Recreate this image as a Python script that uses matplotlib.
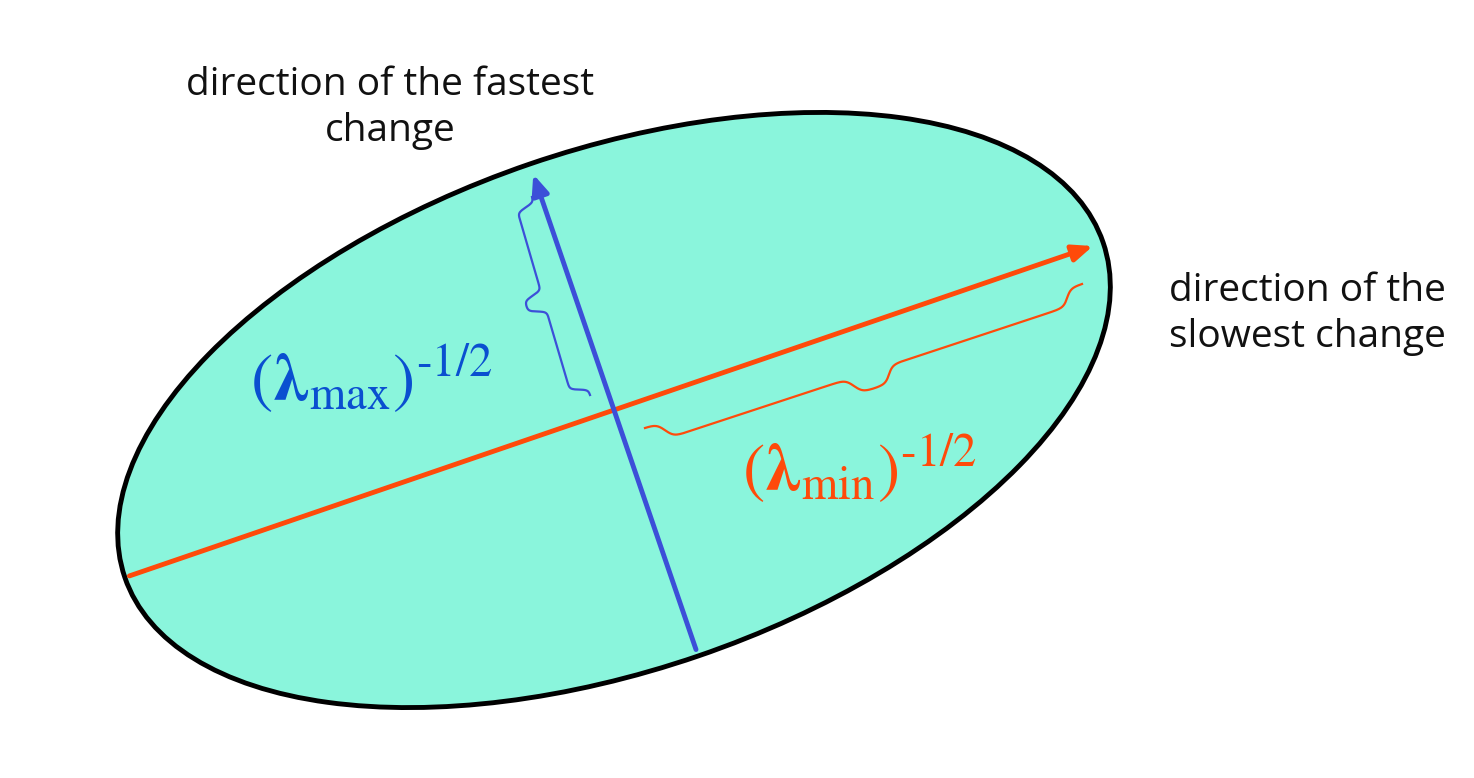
import numpy as np
import matplotlib
matplotlib.use("Agg")
import matplotlib.pyplot as plt
from matplotlib.patches import Ellipse, FancyArrowPatch

plt.rcParams['mathtext.fontset'] = 'stix'

# diagram parameters (pixel space)
center = (614, 410)
semi_major = 517
semi_minor = 260
angle_deg = 18.9
fill_color = '#8af5dc'
major_color = '#ff4a0a'
minor_color = '#3c4fd8'
label_fast = "direction of the fastest\nchange"
label_slow = "direction of the\nslowest change"

fig = plt.figure(figsize=(14.74, 7.78), dpi=100)
ax = fig.add_axes([0, 0, 1, 1])
ax.set_xlim(0, 1474)
ax.set_ylim(778, 0)
ax.set_aspect('equal')
ax.axis('off')

ax.add_patch(Ellipse(center, 2*semi_major, 2*semi_minor, angle=-angle_deg,
                     facecolor=fill_color, edgecolor='black', lw=3.5))

t = np.deg2rad(angle_deg)
u = np.array([np.cos(t), -np.sin(t)])     # major direction (up-right)
v = np.array([-np.sin(t), -np.cos(t)])    # minor direction (up-left)
c = np.array(center)

a1, a2 = c - u*(semi_major-2), c + u*(semi_major-8)
ax.add_patch(FancyArrowPatch(a1, a2, arrowstyle='-|>,head_length=12,head_width=5',
                             color=major_color, lw=3.5, mutation_scale=1))
b1, b2 = c - v*(semi_minor-4), c + v*(semi_minor-8)
ax.add_patch(FancyArrowPatch(b1, b2, arrowstyle='-|>,head_length=12,head_width=5',
                             color=minor_color, lw=3.5, mutation_scale=1))

def sig(x):
    return 1/(1+np.exp(-x))

def brace(p1, p2, width, color):
    p1, p2 = np.array(p1, float), np.array(p2, float)
    d = p2 - p1
    L = np.linalg.norm(d)
    e = d / L
    n = np.array([e[1], -e[0]])
    s = np.linspace(0, 1, 600)
    beta = 140.0
    q = np.minimum(s, 1 - s)
    h = 0.5*sig(beta*(q-0.04)) + 0.5*sig(beta*(q-0.46))
    h0 = 0.5*sig(beta*(-0.04)) + 0.5*sig(beta*(-0.46))
    h1 = 0.5*sig(beta*(0.46)) + 0.5*sig(beta*(0.04))
    h = (h - h0) / (h1 - h0) * width
    pts = p1[None, :] + s[:, None]*d[None, :] + h[:, None]*n[None, :]
    ax.plot(pts[:, 0], pts[:, 1], color=color, lw=1.6)

brace((590, 395), (532, 197), 36, minor_color)
brace((1082, 284), (645, 428), 34, major_color)

ax.text(390, 108, label_fast, ha='center', va='center', fontsize=28,
        family='Open Sans', linespacing=1.25, color='#111111')
ax.text(1307, 314, label_slow, ha='center', va='center', fontsize=28,
        family='Open Sans', linespacing=1.25, color='#111111')

ax.text(250, 378, r'$(\mathbf{\lambda}_{\rm max})^{\text{-}1/2}$', fontsize=48,
        color='#0a4fd0', va='center', ha='left')
ax.text(742, 468, r'$(\mathbf{\lambda}_{\rm min})^{\text{-}1/2}$', fontsize=48,
        color=major_color, va='center', ha='left')

fig.savefig('out.png', dpi=100, facecolor='white')
